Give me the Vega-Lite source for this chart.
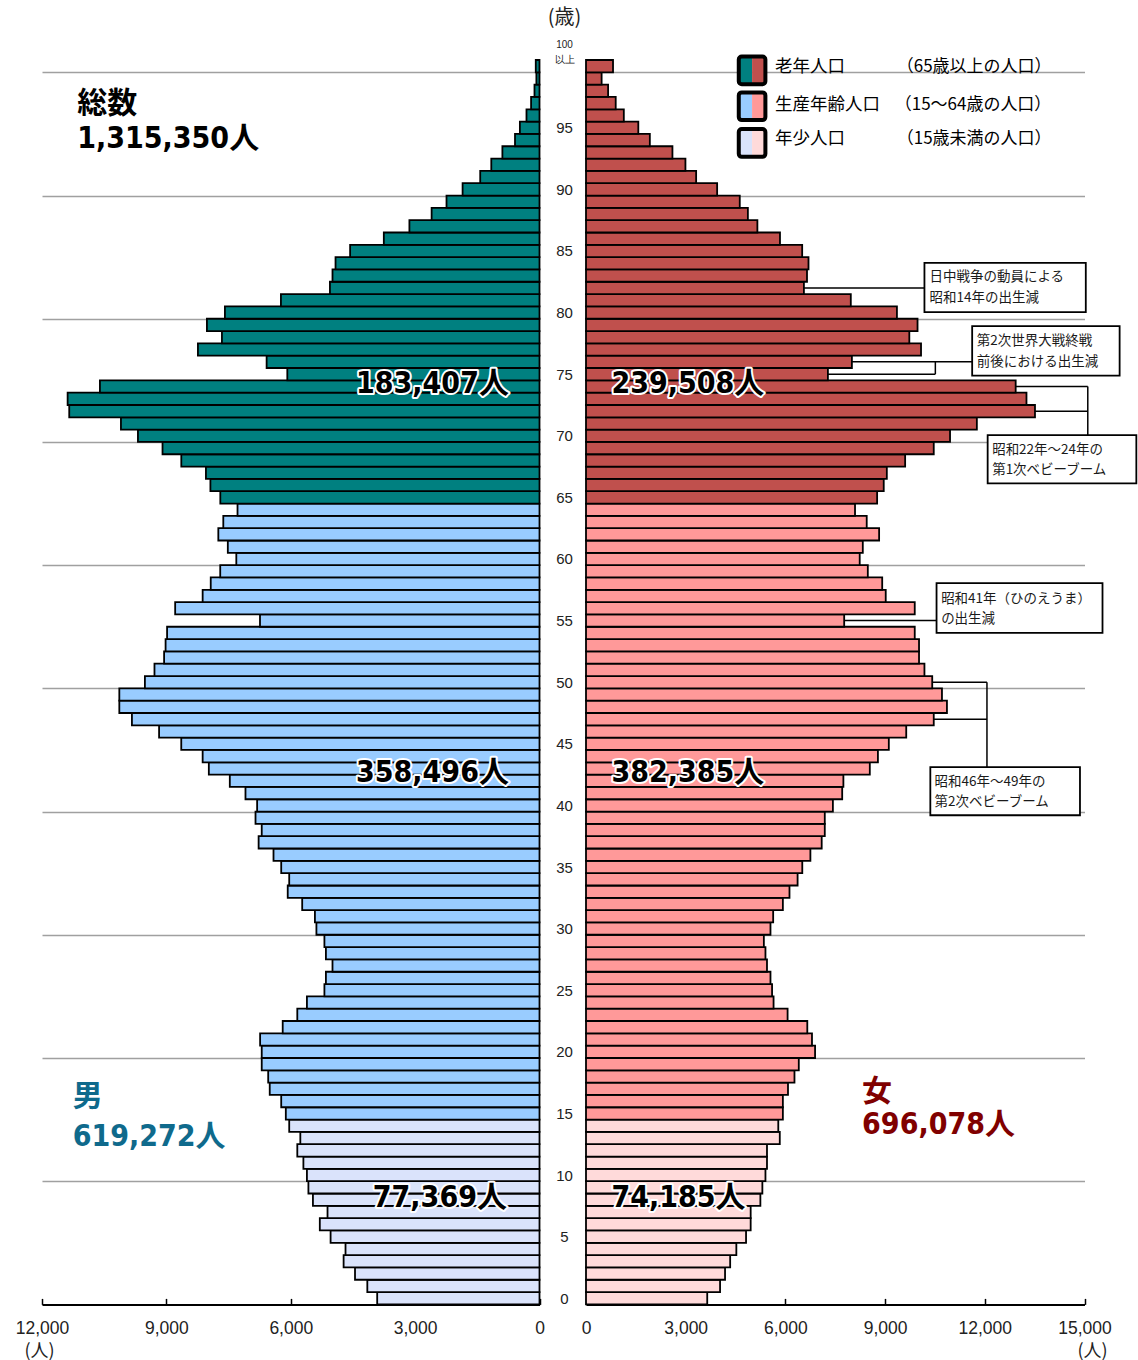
{
  "$schema": "https://vega.github.io/schema/vega-lite/v6.json",
  "autosize": {"type": "pad"},
  "padding": {"left": 15, "top": 8, "right": 0, "bottom": 0},
  "background": "white",
  "bounds": "flush",
  "spacing": 46,
  "config": {"view": {"stroke": null}, "font": "Liberation Sans"},
  "resolve": {"scale": {"color": "independent", "fill": "independent"}},
  "datasets": {
    "pop": [
      {"age":0,"group":"年少人口","male":3915,"female":3648},
      {"age":1,"group":"年少人口","male":4153,"female":4034},
      {"age":2,"group":"年少人口","male":4450,"female":4184},
      {"age":3,"group":"年少人口","male":4725,"female":4338},
      {"age":4,"group":"年少人口","male":4679,"female":4524},
      {"age":5,"group":"年少人口","male":5039,"female":4816},
      {"age":6,"group":"年少人口","male":5299,"female":4955},
      {"age":7,"group":"年少人口","male":5113,"female":4955},
      {"age":8,"group":"年少人口","male":5465,"female":5247},
      {"age":9,"group":"年少人口","male":5574,"female":5307},
      {"age":10,"group":"年少人口","male":5610,"female":5400},
      {"age":11,"group":"年少人口","male":5695,"female":5446},
      {"age":12,"group":"年少人口","male":5842,"female":5446},
      {"age":13,"group":"年少人口","male":5769,"female":5831},
      {"age":14,"group":"年少人口","male":6037,"female":5786},
      {"age":15,"group":"生産年齢人口","male":6119,"female":5924},
      {"age":16,"group":"生産年齢人口","male":6230,"female":5924},
      {"age":17,"group":"生産年齢人口","male":6507,"female":6078},
      {"age":18,"group":"生産年齢人口","male":6544,"female":6273},
      {"age":19,"group":"生産年齢人口","male":6700,"female":6403},
      {"age":20,"group":"生産年齢人口","male":6700,"female":6893},
      {"age":21,"group":"生産年齢人口","male":6739,"female":6800},
      {"age":22,"group":"生産年齢人口","male":6194,"female":6659},
      {"age":23,"group":"生産年齢人口","male":5842,"female":6066},
      {"age":24,"group":"生産年齢人口","male":5610,"female":5644},
      {"age":25,"group":"生産年齢人口","male":5188,"female":5599},
      {"age":26,"group":"生産年齢人口","male":5152,"female":5551},
      {"age":27,"group":"生産年齢人口","male":4993,"female":5446},
      {"age":28,"group":"生産年齢人口","male":5152,"female":5400},
      {"age":29,"group":"生産年齢人口","male":5188,"female":5352},
      {"age":30,"group":"生産年齢人口","male":5381,"female":5551},
      {"age":31,"group":"生産年齢人口","male":5417,"female":5632},
      {"age":32,"group":"生産年齢人口","male":5724,"female":5924},
      {"age":33,"group":"生産年齢人口","male":6073,"female":6123},
      {"age":34,"group":"生産年齢人口","male":6037,"female":6367},
      {"age":35,"group":"生産年齢人口","male":6230,"female":6508},
      {"age":36,"group":"生産年齢人口","male":6416,"female":6752},
      {"age":37,"group":"生産年齢人口","male":6775,"female":7092},
      {"age":38,"group":"生産年齢人口","male":6700,"female":7185},
      {"age":39,"group":"生産年齢人口","male":6850,"female":7185},
      {"age":40,"group":"生産年齢人口","male":6811,"female":7429},
      {"age":41,"group":"生産年齢人口","male":7092,"female":7709},
      {"age":42,"group":"生産年齢人口","male":7470,"female":7745},
      {"age":43,"group":"生産年齢人口","male":7976,"female":8540},
      {"age":44,"group":"生産年齢人口","male":8125,"female":8784},
      {"age":45,"group":"生産年齢人口","male":8641,"female":9112},
      {"age":46,"group":"生産年齢人口","male":9176,"female":9636},
      {"age":47,"group":"生産年齢人口","male":9831,"female":10464},
      {"age":48,"group":"生産年齢人口","male":10135,"female":10861},
      {"age":49,"group":"生産年齢人口","male":10135,"female":10711},
      {"age":50,"group":"生産年齢人口","male":9518,"female":10418},
      {"age":51,"group":"生産年齢人口","male":9287,"female":10184},
      {"age":52,"group":"生産年齢人口","male":9055,"female":10021},
      {"age":53,"group":"生産年齢人口","male":9019,"female":10021},
      {"age":54,"group":"生産年齢人口","male":8983,"female":9892},
      {"age":55,"group":"生産年齢人口","male":6742,"female":7769},
      {"age":56,"group":"生産年齢人口","male":8788,"female":9892},
      {"age":57,"group":"生産年齢人口","male":8125,"female":9019},
      {"age":58,"group":"生産年齢人口","male":7930,"female":8913},
      {"age":59,"group":"生産年齢人口","male":7701,"female":8480},
      {"age":60,"group":"生産年齢人口","male":7313,"female":8236},
      {"age":61,"group":"生産年齢人口","male":7518,"female":8329},
      {"age":62,"group":"生産年齢人口","male":7747,"female":8820},
      {"age":63,"group":"生産年齢人口","male":7627,"female":8447},
      {"age":64,"group":"生産年齢人口","male":7284,"female":8095},
      {"age":65,"group":"老年人口","male":7699,"female":8760},
      {"age":66,"group":"老年人口","male":7938,"female":8959},
      {"age":67,"group":"老年人口","male":8046,"female":9052},
      {"age":68,"group":"老年人口","male":8640,"female":9603},
      {"age":69,"group":"老年人口","male":9093,"female":10464},
      {"age":70,"group":"老年人口","male":9686,"female":10954},
      {"age":71,"group":"老年人口","male":10096,"female":11761},
      {"age":72,"group":"老年人口","male":11343,"female":13510},
      {"age":73,"group":"老年人口","male":11382,"female":13254},
      {"age":74,"group":"老年人口","male":10603,"female":12929},
      {"age":75,"group":"老年人口","male":6083,"female":7279},
      {"age":76,"group":"老年人口","male":6582,"female":8001},
      {"age":77,"group":"老年人口","male":8239,"female":10081},
      {"age":78,"group":"老年人口","male":7660,"female":9729},
      {"age":79,"group":"老年人口","male":8022,"female":9976},
      {"age":80,"group":"老年人口","male":7588,"female":9356},
      {"age":81,"group":"老年人口","male":6237,"female":7968},
      {"age":82,"group":"老年人口","male":5055,"female":6557},
      {"age":83,"group":"老年人口","male":4993,"female":6650},
      {"age":84,"group":"老年人口","male":4920,"female":6695},
      {"age":85,"group":"老年人口","male":4568,"female":6505},
      {"age":86,"group":"老年人口","male":3755,"female":5837},
      {"age":87,"group":"老年人口","male":3138,"female":5157},
      {"age":88,"group":"老年人口","male":2602,"female":4871},
      {"age":89,"group":"老年人口","male":2243,"female":4627},
      {"age":90,"group":"老年人口","male":1855,"female":3946},
      {"age":91,"group":"老年人口","male":1430,"female":3314},
      {"age":92,"group":"老年人口","male":1163,"female":2992},
      {"age":93,"group":"老年人口","male":895,"female":2601},
      {"age":94,"group":"老年人口","male":591,"female":1921},
      {"age":95,"group":"老年人口","male":473,"female":1574},
      {"age":96,"group":"老年人口","male":314,"female":1138},
      {"age":97,"group":"老年人口","male":203,"female":894},
      {"age":98,"group":"老年人口","male":121,"female":665},
      {"age":99,"group":"老年人口","male":75,"female":470},
      {"age":100,"group":"老年人口","male":90,"female":813}
    ],
    "leftTotals": [
      {"x":738,"y":74.2,"t":"183,407人"},
      {"x":738,"y":42.6,"t":"358,496人"},
      {"x":786,"y":8.14,"t":"77,369人"}
    ],
    "rightTotals": [
      {"x":765,"y":74.2,"t":"239,508人"},
      {"x":765,"y":42.6,"t":"382,385人"},
      {"x":765,"y":8.14,"t":"74,185人"}
    ],
    "allTotal": [
      {"x":11150,"y":96.96,"t":"総数"},
      {"x":11150,"y":94.05,"t":"1,315,350人"}
    ],
    "maleTotal": [
      {"x":11261,"y":16.33,"t":"男"},
      {"x":11261,"y":13.08,"t":"619,272人"}
    ],
    "femaleTotal": [
      {"x":8308,"y":16.74,"t":"女"},
      {"x":8308,"y":14.04,"t":"696,078人"}
    ],
    "leaders": [
      {"x":6557,"x2":10184,"y":82,"y2":82},
      {"x":8001,"x2":11620,"y":76,"y2":76},
      {"x":7279,"x2":10512,"y":75,"y2":75},
      {"x":10512,"x2":10512,"y":75,"y2":76},
      {"x":12929,"x2":15099,"y":74,"y2":74},
      {"x":13510,"x2":15099,"y":72,"y2":72},
      {"x":15099,"x2":15099,"y":74,"y2":70.05},
      {"x":7769,"x2":10548,"y":55,"y2":55},
      {"x":10418,"x2":12065,"y":50,"y2":50},
      {"x":10464,"x2":12065,"y":47,"y2":47},
      {"x":12065,"x2":12065,"y":50,"y2":43.1}
    ],
    "boxes": [
      {"x":10184,"x2":15039,"y":84.03,"y2":80.03},
      {"x":11620,"x2":16057,"y":78.9,"y2":74.89},
      {"x":12086,"x2":16560,"y":70.05,"y2":66.13},
      {"x":10548,"x2":15542,"y":58.04,"y2":54.0},
      {"x":10361,"x2":14864,"y":43.1,"y2":39.2}
    ],
    "boxTexts": [
      {"x":10337,"y":82.9,"t":"日中戦争の動員による"},
      {"x":10337,"y":81.2,"t":"昭和14年の出生減"},
      {"x":11761,"y":77.68,"t":"第2次世界大戦終戦"},
      {"x":11761,"y":76.0,"t":"前後における出生減"},
      {"x":12221,"y":68.83,"t":"昭和22年～24年の"},
      {"x":12221,"y":67.21,"t":"第1次ベビーブーム"},
      {"x":10686,"y":56.76,"t":"昭和41年（ひのえうま）"},
      {"x":10686,"y":55.09,"t":"の出生減"},
      {"x":10488,"y":41.88,"t":"昭和46年～49年の"},
      {"x":10488,"y":40.26,"t":"第2次ベビーブーム"}
    ],
    "legend": [
      {"group":"老年人口","note":"（65歳以上の人口）","top":100.79,"bot":98.54,"ty":99.92,"nx":9350},
      {"group":"生産年齢人口","note":"（15～64歳の人口）","top":97.87,"bot":95.62,"ty":96.83,"nx":9290},
      {"group":"年少人口","note":"（15歳未満の人口）","top":94.89,"bot":92.64,"ty":94.11,"nx":9350}
    ]
  },
  "hconcat": [
    {
      "width": 497.5,
      "height": 1244.4,
      "layer": [
        {
          "data": {"name": "pop"},
          "mark": {"type": "bar", "orient": "horizontal", "height": 12.32, "stroke": "black", "strokeWidth": 1.8},
          "encoding": {
            "y": {"field": "age", "type": "quantitative",
              "scale": {"domain": [-0.5, 100.5], "nice": false, "zero": false, "padding": 0},
              "axis": {"orient": "right", "values": [9.5,19.5,29.5,39.5,49.5,59.5,69.5,79.5,89.5,99.5],
                "labels": false, "ticks": false, "domain": false, "grid": true,
                "gridColor": "#a0a0a0", "gridWidth": 1.5, "title": null}},
            "x": {"field": "male", "type": "quantitative", "stack": null,
              "scale": {"domain": [0, 12000], "reverse": true, "nice": false},
              "axis": {"values": [0,3000,6000,9000,12000], "labelExpr": "format(datum.value, ',')", "grid": false,
                "title": "(人)", "titleX": -3, "titleY": 47, "titleAlign": "center", "titleBaseline": "middle",
                "titleFontSize": 18, "titleFont": "Noto Sans CJK JP", "titleFontWeight": "normal", "titleColor": "#222",
                "labelFontSize": 17.5, "labelColor": "#222", "labelFont": "Liberation Sans", "labelPadding": 21,
                "tickSize": -6, "tickColor": "black", "tickWidth": 1.5, "domainColor": "black", "domainWidth": 2,
                "labelFlush": false, "labelOverlap": false}},
            "color": {"field": "group", "type": "nominal",
              "scale": {"domain": ["老年人口","生産年齢人口","年少人口"], "range": ["#008080","#99ccff","#dae3fb"]},
              "legend": null}
          }
        },
        {
          "data": {"name": "leftTotals"},
          "mark": {"type": "text", "align": "right", "baseline": "middle", "font": "DejaVu Sans Condensed, Noto Sans CJK JP", "fontWeight": "bold", "fontSize": 30, "stroke": "white", "strokeWidth": 4, "strokeJoin": "round", "fill": "white"},
          "encoding": {
            "x": {"field": "x", "type": "quantitative"},
            "y": {"field": "y", "type": "quantitative"},
            "text": {"field": "t"}
          }
        },
        {
          "data": {"name": "leftTotals"},
          "mark": {"type": "text", "align": "right", "baseline": "middle", "font": "DejaVu Sans Condensed, Noto Sans CJK JP", "fontWeight": "bold", "fontSize": 30, "fill": "black"},
          "encoding": {
            "x": {"field": "x", "type": "quantitative"},
            "y": {"field": "y", "type": "quantitative"},
            "text": {"field": "t"}
          }
        },
        {
          "data": {"name": "allTotal"},
          "mark": {"type": "text", "align": "left", "baseline": "middle", "font": "DejaVu Sans Condensed, Noto Sans CJK JP", "fontWeight": "bold", "fontSize": 30, "fill": "black"},
          "encoding": {
            "x": {"field": "x", "type": "quantitative"},
            "y": {"field": "y", "type": "quantitative"},
            "text": {"field": "t"}
          }
        },
        {
          "data": {"name": "maleTotal"},
          "mark": {"type": "text", "align": "left", "baseline": "middle", "font": "DejaVu Sans Condensed, Noto Sans CJK JP", "fontWeight": "bold", "fontSize": 30, "fill": "#0f6a8c"},
          "encoding": {
            "x": {"field": "x", "type": "quantitative"},
            "y": {"field": "y", "type": "quantitative"},
            "text": {"field": "t"}
          }
        }
      ]
    },
    {
      "width": 498.5,
      "height": 1244.4,
      "layer": [
        {
          "data": {"name": "pop"},
          "mark": {"type": "bar", "orient": "horizontal", "height": 12.32, "stroke": "black", "strokeWidth": 1.8},
          "encoding": {
            "y": {"field": "age", "type": "quantitative",
              "scale": {"domain": [-0.5, 100.5], "nice": false, "zero": false, "padding": 0},
              "axis": {"orient": "left",
                "values": [0,5,10,15,20,25,30,35,40,45,50,55,60,65,70,75,80,85,90,95,100,9.5,19.5,29.5,39.5,49.5,59.5,69.5,79.5,89.5,99.5],
                "labelExpr": "datum.value == 100 ? ['100','以上'] : (datum.value % 5 == 0 ? datum.label : '')",
                "labelAlign": "center", "labelPadding": 22, "tickSize": 0, "ticks": false, "domain": false,
                "labelFontSize": {"condition": {"test": "datum.value == 100", "value": 10}, "value": 15},
                "labelOffset": {"condition": {"test": "datum.value == 100", "value": -22}, "value": 0},
                "labelLineHeight": 15,
                "labelColor": "#222", "labelFont": "Liberation Sans",
                "labelOverlap": false, "labelBound": false, "labelFlush": false,
                "grid": true, "gridColor": "#a0a0a0", "gridWidth": 1.5,
                "gridOpacity": {"condition": {"test": "datum.value % 1 != 0", "value": 1}, "value": 0},
                "title": "(歳)", "titleAngle": 0, "titleX": -22, "titleY": -42, "titleAlign": "center", "titleBaseline": "middle",
                "titleFontSize": 20, "titleFont": "Noto Sans CJK JP", "titleFontWeight": "normal", "titleColor": "#222"}},
            "x": {"field": "female", "type": "quantitative", "stack": null,
              "scale": {"domain": [0, 15000], "nice": false},
              "axis": {"values": [0,3000,6000,9000,12000,15000], "labelExpr": "format(datum.value, ',')", "grid": false,
                "title": "(人)", "titleX": 506, "titleY": 47, "titleAlign": "center", "titleBaseline": "middle",
                "titleFontSize": 18, "titleFont": "Noto Sans CJK JP", "titleFontWeight": "normal", "titleColor": "#222",
                "labelFontSize": 17.5, "labelColor": "#222", "labelFont": "Liberation Sans", "labelPadding": 21,
                "tickSize": -6, "tickColor": "black", "tickWidth": 1.5, "domainColor": "black", "domainWidth": 2,
                "labelFlush": false, "labelOverlap": false}},
            "color": {"field": "group", "type": "nominal",
              "scale": {"domain": ["老年人口","生産年齢人口","年少人口"], "range": ["#c0504d","#ff9999","#ffdada"]},
              "legend": null}
          }
        },
        {
          "data": {"name": "leaders"},
          "mark": {"type": "rule", "color": "black", "strokeWidth": 1.5},
          "encoding": {
            "x": {"field": "x", "type": "quantitative"},
            "x2": {"field": "x2"},
            "y": {"field": "y", "type": "quantitative"},
            "y2": {"field": "y2"}
          }
        },
        {
          "data": {"name": "boxes"},
          "mark": {"type": "rect", "fill": "white", "stroke": "black", "strokeWidth": 1.8},
          "encoding": {
            "x": {"field": "x", "type": "quantitative"},
            "x2": {"field": "x2"},
            "y": {"field": "y", "type": "quantitative"},
            "y2": {"field": "y2"}
          }
        },
        {
          "data": {"name": "boxTexts"},
          "mark": {"type": "text", "align": "left", "baseline": "middle", "font": "Noto Sans CJK JP", "fontSize": 13.5, "fill": "#1a1a1a"},
          "encoding": {
            "x": {"field": "x", "type": "quantitative"},
            "y": {"field": "y", "type": "quantitative"},
            "text": {"field": "t"}
          }
        },
        {
          "data": {"name": "legend"},
          "mark": {"type": "rect"},
          "encoding": {
            "x": {"datum": 4597, "type": "quantitative"},
            "x2": {"datum": 4997},
            "y": {"field": "top", "type": "quantitative"},
            "y2": {"field": "bot"},
            "fill": {"field": "group", "type": "nominal",
              "scale": {"domain": ["老年人口","生産年齢人口","年少人口"], "range": ["#008080","#99ccff","#dae3fb"]},
              "legend": null}
          }
        },
        {
          "data": {"name": "legend"},
          "mark": {"type": "rect"},
          "encoding": {
            "x": {"datum": 4997, "type": "quantitative"},
            "x2": {"datum": 5398},
            "y": {"field": "top", "type": "quantitative"},
            "y2": {"field": "bot"},
            "color": {"field": "group", "type": "nominal", "legend": null}
          }
        },
        {
          "data": {"name": "legend"},
          "mark": {"type": "rect", "fillOpacity": 0, "stroke": "black", "strokeWidth": 4, "cornerRadius": 3},
          "encoding": {
            "x": {"datum": 4597, "type": "quantitative"},
            "x2": {"datum": 5398},
            "y": {"field": "top", "type": "quantitative"},
            "y2": {"field": "bot"}
          }
        },
        {
          "data": {"name": "legend"},
          "mark": {"type": "text", "align": "left", "baseline": "middle", "font": "Noto Sans CJK JP", "fontSize": 17.5, "fill": "black"},
          "encoding": {
            "x": {"datum": 5689, "type": "quantitative"},
            "y": {"field": "ty", "type": "quantitative"},
            "text": {"field": "group"}
          }
        },
        {
          "data": {"name": "legend"},
          "mark": {"type": "text", "align": "left", "baseline": "middle", "font": "Noto Sans CJK JP", "fontSize": 17, "fill": "black"},
          "encoding": {
            "x": {"field": "nx", "type": "quantitative"},
            "y": {"field": "ty", "type": "quantitative"},
            "text": {"field": "note"}
          }
        },
        {
          "data": {"name": "rightTotals"},
          "mark": {"type": "text", "align": "left", "baseline": "middle", "font": "DejaVu Sans Condensed, Noto Sans CJK JP", "fontWeight": "bold", "fontSize": 30, "stroke": "white", "strokeWidth": 4, "strokeJoin": "round", "fill": "white"},
          "encoding": {
            "x": {"field": "x", "type": "quantitative"},
            "y": {"field": "y", "type": "quantitative"},
            "text": {"field": "t"}
          }
        },
        {
          "data": {"name": "rightTotals"},
          "mark": {"type": "text", "align": "left", "baseline": "middle", "font": "DejaVu Sans Condensed, Noto Sans CJK JP", "fontWeight": "bold", "fontSize": 30, "fill": "black"},
          "encoding": {
            "x": {"field": "x", "type": "quantitative"},
            "y": {"field": "y", "type": "quantitative"},
            "text": {"field": "t"}
          }
        },
        {
          "data": {"name": "femaleTotal"},
          "mark": {"type": "text", "align": "left", "baseline": "middle", "font": "DejaVu Sans Condensed, Noto Sans CJK JP", "fontWeight": "bold", "fontSize": 30, "fill": "#800000"},
          "encoding": {
            "x": {"field": "x", "type": "quantitative"},
            "y": {"field": "y", "type": "quantitative"},
            "text": {"field": "t"}
          }
        }
      ]
    }
  ]
}
